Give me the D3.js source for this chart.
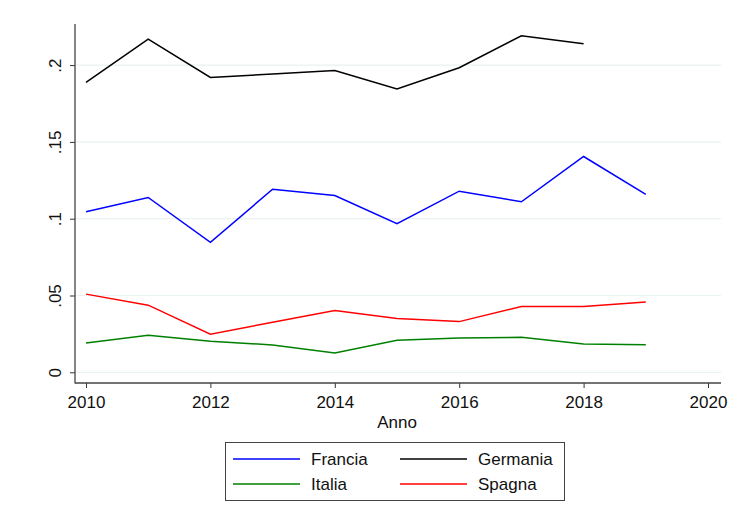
<!DOCTYPE html>
<html><head><meta charset="utf-8">
<script src="https://cdn.jsdelivr.net/npm/d3@7"></script>
<style>body{margin:0;background:#fff}svg{display:block}text{font-family:"Liberation Sans",Arial,Helvetica,sans-serif;fill:#111}</style>
</head><body>
<svg id="c" width="737" height="511"></svg>
<script>
const years = [2010,2011,2012,2013,2014,2015,2016,2017,2018,2019];
const francia  = [0.1045,0.1138,0.0846,0.1192,0.1151,0.0967,0.1179,0.1110,0.1405,0.1158];
const germania = [0.1887,0.2169,0.1920,0.1942,0.1965,0.1844,0.1983,0.2191,0.2139,null];
const italia   = [0.0191,0.0241,0.0202,0.0178,0.0126,0.0209,0.0224,0.0228,0.0185,0.0180];
const spagna   = [0.0509,0.0437,0.0248,0.0326,0.0402,0.0350,0.0330,0.0428,0.0428,0.0457];
const yTicks = [0,0.05,0.1,0.15,0.2];
const yTickLabels = ["0",".05",".1",".15",".2"];
const xTicks = [2010,2012,2014,2016,2018,2020];
const seriesNames = ["Francia","Germania","Italia","Spagna"];
const seriesColors = ["#0000ff","#000000","#008000","#ff0000"];
const seriesData = [francia,germania,italia,spagna];

const svg = d3.select("#c");
const x = d3.scaleLinear().domain([2010,2020]).range([86,708]);
const y = d3.scaleLinear().domain([0,0.2]).range([372.3,65.1]);
const xLeft = 75, xRight = 721, yTop = 24, yBot = 383;
const fs = "17px";

// gridlines
svg.append("g").selectAll("line").data(yTicks).join("line")
  .attr("x1",xLeft).attr("x2",xRight)
  .attr("y1",d=>y(d)).attr("y2",d=>y(d))
  .attr("stroke","#eaf2f3").attr("stroke-width",1.2);

// y axis
const ya = svg.append("g").attr("transform",`translate(${xLeft},0)`)
  .call(d3.axisLeft(y).tickValues(yTicks).tickSize(5).tickFormat((d,i)=>yTickLabels[i]));
ya.select(".domain").remove();
ya.selectAll(".tick line").attr("stroke","#333");
ya.selectAll(".tick text").attr("transform","translate(-14,0) rotate(-90)").attr("text-anchor","middle")
  .attr("x",0).attr("dy","0").attr("y",0).style("font-size",fs).style("fill","#111").attr("font-family",null);
svg.append("line").attr("x1",xLeft).attr("x2",xLeft).attr("y1",yTop).attr("y2",yBot+0.5).attr("stroke","#444").attr("stroke-width",1.3);

// x axis
const xa = svg.append("g").attr("transform",`translate(0,${yBot})`)
  .call(d3.axisBottom(x).tickValues(xTicks).tickSize(5).tickFormat(d3.format("d")));
xa.select(".domain").remove();
xa.selectAll(".tick line").attr("stroke","#333");
xa.selectAll(".tick text").attr("y",25).attr("dy","0").style("font-size",fs).style("fill","#111").attr("font-family",null);
svg.append("line").attr("x1",xLeft).attr("x2",xRight).attr("y1",yBot).attr("y2",yBot).attr("stroke","#444").attr("stroke-width",1.3);

svg.append("text").attr("x",397).attr("y",428).attr("text-anchor","middle").style("font-size",fs).text("Anno");

// lines
const line = d3.line().defined(d=>d[1]!=null).x(d=>x(d[0])).y(d=>y(d[1]));
seriesData.forEach((s,i)=>{
  svg.append("path").datum(years.map((yr,j)=>[yr,s[j]]))
    .attr("d",line).attr("fill","none").attr("stroke",seriesColors[i]).attr("stroke-width",1.5);
});

// legend
const lg = svg.append("g");
lg.append("rect").attr("x",225.5).attr("y",442.5).attr("width",339).attr("height",58).attr("fill","#fff").attr("stroke","#444").attr("stroke-width",1);
const pos = [[233,459],[400,459],[233,484],[400,484]];
seriesNames.forEach((n,i)=>{
  const [px,py] = pos[i];
  lg.append("line").attr("x1",px).attr("x2",px+67).attr("y1",py).attr("y2",py).attr("stroke",seriesColors[i]).attr("stroke-width",1.5);
  lg.append("text").attr("x",px+78).attr("y",py+6).style("font-size",fs).text(n);
});
</script>
</body></html>
